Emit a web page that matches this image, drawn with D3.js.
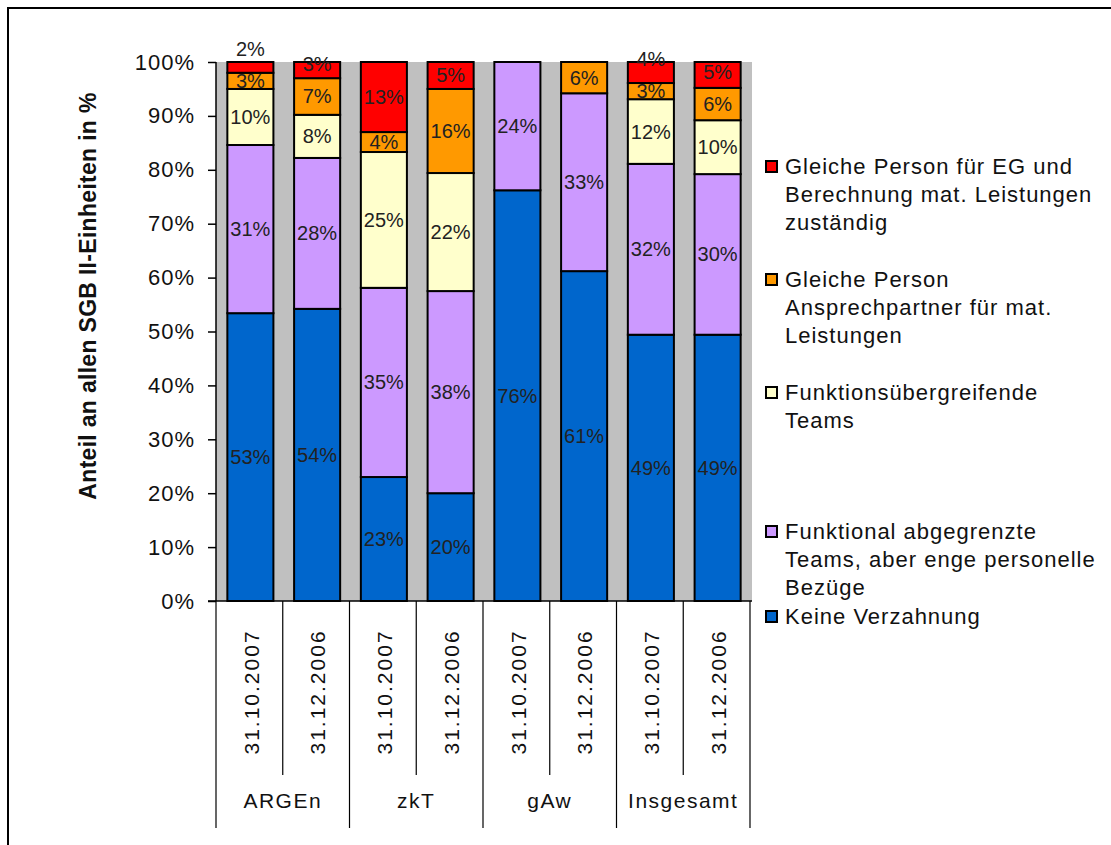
<!DOCTYPE html>
<html>
<head>
<meta charset="utf-8">
<script src="https://cdn.jsdelivr.net/npm/d3@7"></script>
<style>
  body { margin: 0; background: #fff; }
  text { font-family: "Liberation Sans", Arial, sans-serif; fill: #111; }
</style>
</head>
<body>
<svg id="chart" width="1111" height="845"></svg>
<script>
// groups and dates along the x axis
var groups = ["ARGEn", "zkT", "gAw", "Insgesamt"];
var dates = ["31.10.2007", "31.12.2006"];

// series, bottom to top
var seriesNames = [
    "Keine Verzahnung",
    "Funktional abgegrenzte Teams, aber enge personelle Bezüge",
    "Funktionsübergreifende Teams",
    "Gleiche Person Ansprechpartner für mat. Leistungen",
    "Gleiche Person für EG und Berechnung mat. Leistungen zuständig"
];
var seriesColors = ["#0066CC", "#CC99FF", "#FFFFCC", "#FF9900", "#FF0000"];

// values in % per bar (ARGEn 07, ARGEn 06, zkT 07, zkT 06, gAw 07, gAw 06, Ges 07, Ges 06)
var keineVerzahnung   = [53.4, 54.2, 23.0, 20.0, 76.2, 61.2, 49.4, 49.4];
var funktionalTeams   = [31.2, 28.0, 35.1, 37.5, 23.8, 33.0, 31.7, 29.8];
var uebergreifend     = [10.4, 8.0, 25.2, 21.9, 0, 0, 12.0, 10.0];
var ansprechpartner   = [3.0, 6.8, 3.7, 15.6, 0, 5.8, 3.0, 6.0];
var gleichePerson     = [2.0, 3.0, 13.0, 5.0, 0, 0, 3.9, 4.8];
var yTicks = [0, 10, 20, 30, 40, 50, 60, 70, 80, 90, 100];

var seriesValues = [keineVerzahnung, funktionalTeams, uebergreifend, ansprechpartner, gleichePerson];

var bars = [];
groups.forEach(function (g) {
    dates.forEach(function (d) {
        bars.push({group: g, date: d, key: g + "|" + d});
    });
});
bars.forEach(function (b, i) {
    seriesValues.forEach(function (s, j) {
        b["s" + j] = s[i];
    });
});

var svg = d3.select("#chart");

// outer frame
svg.append("rect")
    .attr("x", 8).attr("y", 8)
    .attr("width", 1130).attr("height", 860)
    .attr("fill", "none").attr("stroke", "#000").attr("stroke-width", 2);

var plotLeft = 216, plotRight = 752, plotTop = 62, plotBottom = 601;

var x = d3.scaleBand()
    .domain(bars.map(function (d) { return d.key; }))
    .range([plotLeft, plotRight])
    .paddingInner(0.31)
    .paddingOuter(0.17);

var y = d3.scaleLinear().domain([0, 100]).range([plotBottom, plotTop]);

// plot background
svg.append("rect")
    .attr("x", plotLeft).attr("y", plotTop)
    .attr("width", plotRight - plotLeft).attr("height", plotBottom - plotTop)
    .attr("fill", "#C0C0C0");

var stack = d3.stack().keys(seriesValues.map(function (s, j) { return "s" + j; }));
var stacked = stack(bars);

var layers = svg.selectAll(".layer")
    .data(stacked)
    .enter().append("g")
    .attr("class", "layer")
    .attr("fill", function (d, i) { return seriesColors[i]; });

layers.selectAll("rect")
    .data(function (d) { return d.filter(function (p) { return p[1] - p[0] > 0; }); })
    .enter().append("rect")
    .attr("x", function (d) { return x(d.data.key); })
    .attr("width", x.bandwidth())
    .attr("y", function (d) { return y(d[1]); })
    .attr("height", function (d) { return y(d[0]) - y(d[1]); })
    .attr("stroke", "#000")
    .attr("stroke-width", 2);

// data labels: centred in the segment, pushed up when they would crowd the label below
var minGap = 32;
var labels = [];
bars.forEach(function (b, i) {
    var prevY = null;
    stacked.forEach(function (layer) {
        var p = layer[i];
        if (p[1] - p[0] <= 0) return;
        var ly = (y(p[0]) + y(p[1])) / 2;
        if (prevY !== null && prevY - ly < minGap) ly = prevY - minGap;
        prevY = ly;
        labels.push({key: b.key, y: ly, text: Math.round(p[1] - p[0]) + "%"});
    });
});

svg.append("g").selectAll("text")
    .data(labels)
    .enter().append("text")
    .attr("x", function (d) { return x(d.key) + x.bandwidth() / 2; })
    .attr("y", function (d) { return d.y; })
    .attr("dy", "0.35em")
    .attr("text-anchor", "middle")
    .style("font-size", "20px")
    .style("fill", "#222")
    .text(function (d) { return d.text; });

// y axis
var yAxis = svg.append("g")
    .attr("transform", "translate(" + plotLeft + ",0)")
    .call(d3.axisLeft(y).tickValues(yTicks).tickSize(8).tickPadding(13)
        .tickFormat(function (d) { return d + "%"; }));
yAxis.select(".domain").attr("stroke", "#000").attr("stroke-width", 1.5)
    .attr("d", "M0," + plotTop + "V" + plotBottom);
yAxis.selectAll(".tick line").attr("stroke", "#000").attr("stroke-width", 1.5);
yAxis.selectAll(".tick text")
    .style("font-size", "22px")
    .style("letter-spacing", "1px")
    .style("font-family", "'Liberation Sans', Arial, sans-serif")
    .attr("fill", "#111");

svg.append("text")
    .attr("transform", "translate(96,296) rotate(-90)")
    .attr("text-anchor", "middle")
    .style("font-size", "23px")
    .style("font-weight", "bold")
    .style("letter-spacing", "0.3px")
    .text("Anteil an allen SGB II-Einheiten in %");

// category axis
svg.append("line")
    .attr("x1", plotLeft - 8).attr("x2", plotRight)
    .attr("y1", plotBottom).attr("y2", plotBottom)
    .attr("stroke", "#000").attr("stroke-width", 1.5);

var step = x.step();
var boundaries = d3.range(bars.length + 1).map(function (i) { return plotLeft + i * step; });
svg.selectAll(".sep")
    .data(boundaries)
    .enter().append("line")
    .attr("class", "sep")
    .attr("x1", function (d) { return d; }).attr("x2", function (d) { return d; })
    .attr("y1", plotBottom)
    .attr("y2", function (d, i) { return i % dates.length === 0 ? 828 : 775; })
    .attr("stroke", "#000").attr("stroke-width", 1.2);

svg.selectAll(".dateLabel")
    .data(bars)
    .enter().append("text")
    .attr("class", "dateLabel")
    .attr("transform", function (d) {
        return "translate(" + (x(d.key) + x.bandwidth() / 2 + 1) + ",692) rotate(-90)";
    })
    .attr("text-anchor", "middle")
    .attr("dy", "0.35em")
    .style("font-size", "21px")
    .style("letter-spacing", "2px")
    .text(function (d) { return d.date; });

svg.selectAll(".groupLabel")
    .data(groups)
    .enter().append("text")
    .attr("class", "groupLabel")
    .attr("x", function (d, i) { return plotLeft + (i + 0.5) * step * dates.length; })
    .attr("y", 801)
    .attr("dy", "0.35em")
    .attr("text-anchor", "middle")
    .style("font-size", "21px")
    .style("letter-spacing", "1.5px")
    .text(function (d) { return d; });

// legend (top to bottom = reverse of stack order)
var legendLines = [
    ["Gleiche Person für EG und", "Berechnung mat. Leistungen", "zuständig"],
    ["Gleiche Person", "Ansprechpartner für mat.", "Leistungen"],
    ["Funktionsübergreifende", "Teams"],
    ["Funktional abgegrenzte", "Teams, aber enge personelle", "Bezüge"],
    ["Keine Verzahnung"]
];
var legendTops = [166, 279, 392, 531, 616];
var legendColors = seriesColors.slice().reverse();

var legend = svg.selectAll(".legend")
    .data(legendLines)
    .enter().append("g")
    .attr("class", "legend")
    .attr("transform", function (d, i) { return "translate(766," + legendTops[i] + ")"; });

legend.append("rect")
    .attr("x", 0).attr("y", -5)
    .attr("width", 11).attr("height", 11)
    .attr("fill", function (d, i) { return legendColors[i]; })
    .attr("stroke", "#000").attr("stroke-width", 2);

legend.selectAll("text")
    .data(function (d) { return d; })
    .enter().append("text")
    .attr("x", 19)
    .attr("y", function (d, i) { return i * 28; })
    .attr("dy", "0.35em")
    .style("font-size", "22px")
    .style("letter-spacing", "1px")
    .text(function (d) { return d; });
</script>
</body>
</html>
